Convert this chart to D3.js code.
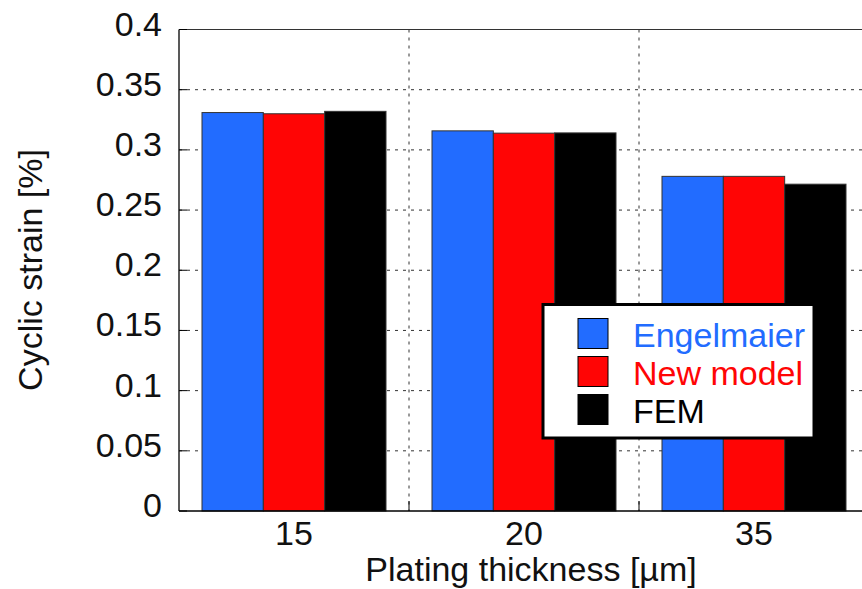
<!DOCTYPE html>
<html><head><meta charset="utf-8">
<script src="https://cdn.jsdelivr.net/npm/d3@7"></script>
<style>body{margin:0;background:#fff}svg{display:block}text{font-family:"Liberation Sans",Arial,sans-serif}</style>
</head><body><svg id="c" width="862" height="589"></svg>
<script>
const categories = ["15", "20", "35"];
const seriesNames = ["Engelmaier", "New model", "FEM"];
const seriesColors = ["#226cff", "#ff0505", "#000000"];
const engelmaier = [0.331, 0.3158, 0.278];
const newModel = [0.330, 0.3139, 0.278];
const fem = [0.332, 0.3141, 0.2715];
const yTicks = [0, 0.05, 0.1, 0.15, 0.2, 0.25, 0.3, 0.35, 0.4];
const yTickLabels = ["0", "0.05", "0.1", "0.15", "0.2", "0.25", "0.3", "0.35", "0.4"];
const xTitle = "Plating thickness [µm]";
const yTitle = "Cyclic strain [%]";

const seriesValues = [engelmaier, newModel, fem];
const svg = d3.select("#c");
const L = 179, R = 869, T = 29.5, B = 511;
const FS = 34;

const x0 = d3.scaleBand().domain(categories).range([L, R]).paddingInner(0).paddingOuter(0);
const bw = x0.bandwidth();
const x1 = d3.scaleBand().domain(seriesNames).range([bw * 0.1, bw * 0.9]).padding(0);
const y = d3.scaleLinear().domain([0, 0.4]).range([B, T]);

// grid
const grid = svg.append("g");
grid.selectAll("line.h").data(yTicks.slice(1, -1)).join("line")
  .attr("x1", L).attr("x2", R).attr("y1", d => y(d)).attr("y2", d => y(d))
  .attr("stroke", "#333").attr("stroke-width", 1).attr("stroke-dasharray", "3,5");
grid.selectAll("line.v").data(categories.slice(1)).join("line")
  .attr("x1", d => x0(d)).attr("x2", d => x0(d)).attr("y1", T).attr("y2", B)
  .attr("stroke", "#333").attr("stroke-width", 1).attr("stroke-dasharray", "3,5");

// bars
const groups = svg.append("g").selectAll("g").data(categories).join("g")
  .attr("transform", d => `translate(${x0(d)},0)`);
groups.selectAll("rect").data((c, i) => seriesNames.map((s, j) => ({s, j, v: seriesValues[j][i]}))).join("rect")
  .attr("x", d => x1(d.s)).attr("width", x1.bandwidth())
  .attr("y", d => y(d.v)).attr("height", d => B - y(d.v))
  .attr("fill", d => seriesColors[d.j]).attr("stroke", "#333").attr("stroke-width", 1);

// frame
svg.append("line").attr("x1", L).attr("x2", R).attr("y1", T).attr("y2", T).attr("stroke", "#333").attr("stroke-width", 1.2);
svg.append("line").attr("x1", L).attr("x2", L).attr("y1", T).attr("y2", B).attr("stroke", "#222").attr("stroke-width", 1.5);
svg.append("line").attr("x1", L).attr("x2", R).attr("y1", B).attr("y2", B).attr("stroke", "#000").attr("stroke-width", 1.5);

// ticks
svg.append("g").selectAll("line").data(yTicks).join("line")
  .attr("x1", L).attr("x2", L + 8).attr("y1", d => y(d)).attr("y2", d => y(d)).attr("stroke", "#000");
svg.append("g").selectAll("line").data(categories.slice(1)).join("line")
  .attr("x1", d => x0(d)).attr("x2", d => x0(d)).attr("y1", B).attr("y2", B - 10).attr("stroke", "#000");

// y labels
svg.append("g").selectAll("text").data(yTicks).join("text")
  .attr("x", 162).attr("y", (d) => y(d) + 6).attr("text-anchor", "end")
  .attr("font-size", FS).attr("fill", "#111").text((d, i) => yTickLabels[i]);
// x labels
svg.append("g").selectAll("text").data(categories).join("text")
  .attr("x", d => x0(d) + bw / 2).attr("y", 545).attr("text-anchor", "middle")
  .attr("font-size", FS).attr("fill", "#111").text(d => d);

svg.append("text").attr("x", 531).attr("y", 581).attr("text-anchor", "middle")
  .attr("font-size", FS).attr("fill", "#111").text(xTitle);
svg.append("text").attr("transform", "translate(42,270) rotate(-90)").attr("text-anchor", "middle")
  .attr("font-size", FS).attr("fill", "#111").text(yTitle);

// legend
const lg = svg.append("g");
lg.append("rect").attr("x", 543).attr("y", 304.5).attr("width", 271).attr("height", 133.5)
  .attr("fill", "#fff").attr("stroke", "#000").attr("stroke-width", 3);
const rows = lg.selectAll("g").data(seriesNames).join("g")
  .attr("transform", (d, i) => `translate(0,${i * 38})`);
rows.append("rect").attr("x", 578).attr("y", 318.5).attr("width", 30).attr("height", 30)
  .attr("fill", (d, i) => seriesColors[i]).attr("stroke", "#000").attr("stroke-width", 1);
rows.append("text").attr("x", 633).attr("y", 346.5).attr("font-size", FS)
  .attr("fill", (d, i) => seriesColors[i]).text(d => d);
</script></body></html>
